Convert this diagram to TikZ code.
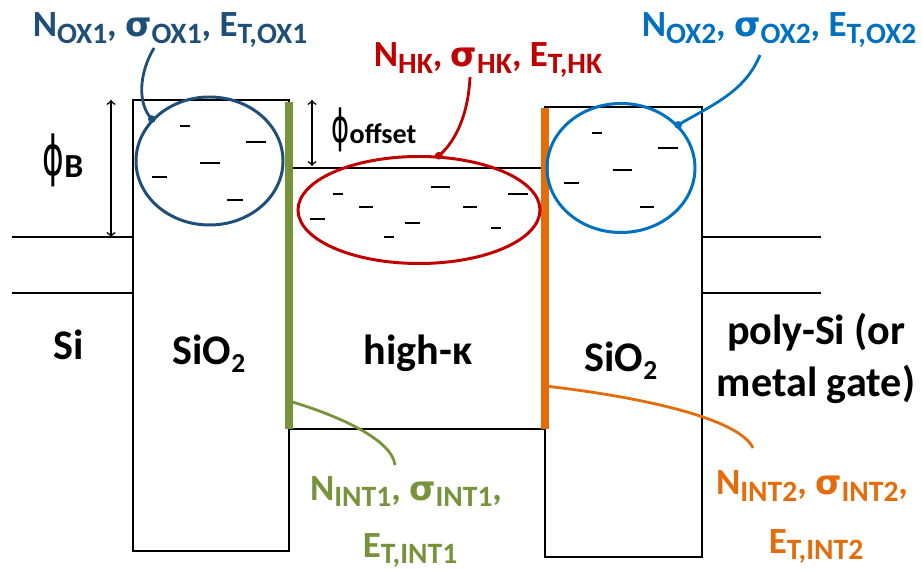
\documentclass[tikz,border=0pt]{standalone}
\usepackage{fontspec}
\setmainfont{Carlito}
\newfontfamily\gk{DejaVu Sans}
\usepackage{graphicx}
\usetikzlibrary{shapes.geometric}

\definecolor{oxone}{RGB}{31,78,121}
\definecolor{hkred}{RGB}{192,0,0}
\definecolor{oxtwo}{RGB}{0,112,192}
\definecolor{intone}{RGB}{119,147,60}
\definecolor{inttwo}{RGB}{228,108,10}

\newcommand{\lo}[2][0.8]{\raisebox{-0.17em}{\scalebox{#1}{#2}}}
\newcommand{\sg}{{\gk\scalebox{0.92}{σ}}}
\newcommand{\ph}{{\gk\mdseries\raisebox{-0.12em}{\scalebox{0.78}[1.3]{ϕ}}}}

\begin{document}
\begin{tikzpicture}[x=0.2mm,y=-0.2mm,
    every node/.style={font=\bfseries\fontsize{24}{28}\selectfont,inner sep=0pt},
    band/.style={line width=1.5pt},
    gap/.style={line width=0.9pt,<->},
    trap/.style={line width=1.1pt},
    trapzone/.style={ellipse,draw,line width=1.7pt,inner sep=0pt},
    intf/.style={line width=4.3pt},
    lead/.style={line width=1.6pt},
    tag/.style={font=\bfseries\fontsize{21}{24}\selectfont,anchor=base}]
    \useasboundingbox (0,0) rectangle (922,570);

    \draw[band] (12,237) -- (133,237);
    \draw[band] (12,293) -- (133,293);
    \draw[band] (133,100) rectangle (289,551);
    \draw[band] (289,168) -- (545,168);
    \draw[band] (289,429) -- (545,429);
    \draw[band] (545,107) rectangle (702,557);
    \draw[band] (702,237) -- (821,237);
    \draw[band] (702,293) -- (821,293);

    \draw[intf,intone] (289,102) -- (289,429);
    \draw[intf,inttwo] (545,108) -- (545,429);

    \coordinate (phiBtop) at (111,100);
    \coordinate (phiBbot) at (111,237);
    \coordinate (offtop) at (312,100);
    \coordinate (offbot) at (312,166);
    \draw[gap] (phiBtop) -- (phiBbot);
    \draw[gap] (offtop) -- (offbot);
    \node[anchor=base] (phiB) at (63,170) {\ph\lo{B}};
    \node[anchor=base,font=\bfseries\fontsize{20}{24}\selectfont] (phioff) at (374,138) {\ph\lo{offset}};

    \node[anchor=base] (si) at (69,360) {Si};
    \node[anchor=base] (oxa) at (209,365) {SiO\lo[0.65]{2}};
    \node[anchor=base] (hk) at (418,365) {high-κ};
    \node[anchor=base] (oxb) at (621,372) {SiO\lo[0.65]{2}};
    \node[anchor=base] (gatea) at (816,345) {poly-Si (or};
    \node[anchor=base] (gateb) at (816,397) {metal gate)};

    \node[trapzone,oxone,minimum width=29.4mm,minimum height=25.6mm] (ox1) at (209.5,161) {};
    \node[trapzone,hkred,minimum width=48.4mm,minimum height=21.4mm] (hkz) at (419,210) {};
    \node[trapzone,oxtwo,minimum width=29.6mm,minimum height=25.8mm] (ox2) at (621,168) {};

    \foreach \x/\y/\l in {185/126/10, 256/142/20, 210/163/20, 159/177/15, 235/200/16,
        338/194/10, 366/207/14, 317/219/15, 389/237/10, 412/223/15, 440/187/19,
        470/207/14, 496/228/10, 518/194/20,
        597/133/10, 668/148/20, 622/170/19, 571/183/15, 647/207/14}
        \draw[trap] ({\x-\l/2},\y) -- ({\x+\l/2},\y);

    \node[tag,oxone] (lblox1) at (170,37) {N\lo{OX1}, \sg\lo{OX1}, E\lo{T,OX1}};
    \node[tag,hkred] (lblhk) at (488,67) {N\lo{HK}, \sg\lo{HK}, E\lo{T,HK}};
    \node[tag,oxtwo] (lblox2) at (779,37) {N\lo{OX2}, \sg\lo{OX2}, E\lo{T,OX2}};
    \node[tag,intone] (lblint1a) at (406,500) {N\lo{INT1}, \sg\lo{INT1},};
    \node[tag,intone] (lblint1b) at (410,557) {E\lo{T,INT1}};
    \node[tag,inttwo] (lblint2a) at (812,495) {N\lo{INT2}, \sg\lo{INT2},};
    \node[tag,inttwo] (lblint2b) at (816,553) {E\lo{T,INT2}};

    \coordinate (ox1lead) at (154,48);
    \coordinate (hklead) at (470,77);
    \coordinate (ox2lead) at (760,55);
    \coordinate (int1lead) at (395,465);
    \coordinate (int2lead) at (753,448);
    \coordinate (int1) at (289,401);
    \coordinate (int2) at (545,386);

    \draw[lead,oxone] (ox1lead) .. controls (138,75) and (138,105) .. (ox1.144);
    \fill[oxone] (ox1.144) circle (2.2pt);
    \draw[lead,hkred] (hklead) .. controls (468,120) and (452,145) .. (hkz.70);
    \fill[hkred] (hkz.70) circle (2.2pt);
    \draw[lead,oxtwo] (ox2lead) .. controls (745,92) and (712,105) .. (ox2.37.5);
    \fill[oxtwo] (ox2.37.5) circle (2.2pt);
    \draw[lead,intone] (int1) .. controls (340,416) and (392,440) .. (int1lead);
    \fill[intone] (int1) circle (2.2pt);
    \draw[lead,inttwo] (int2) .. controls (650,398) and (740,420) .. (int2lead);
    \fill[inttwo] (int2) circle (2.2pt);
\end{tikzpicture}
\end{document}
